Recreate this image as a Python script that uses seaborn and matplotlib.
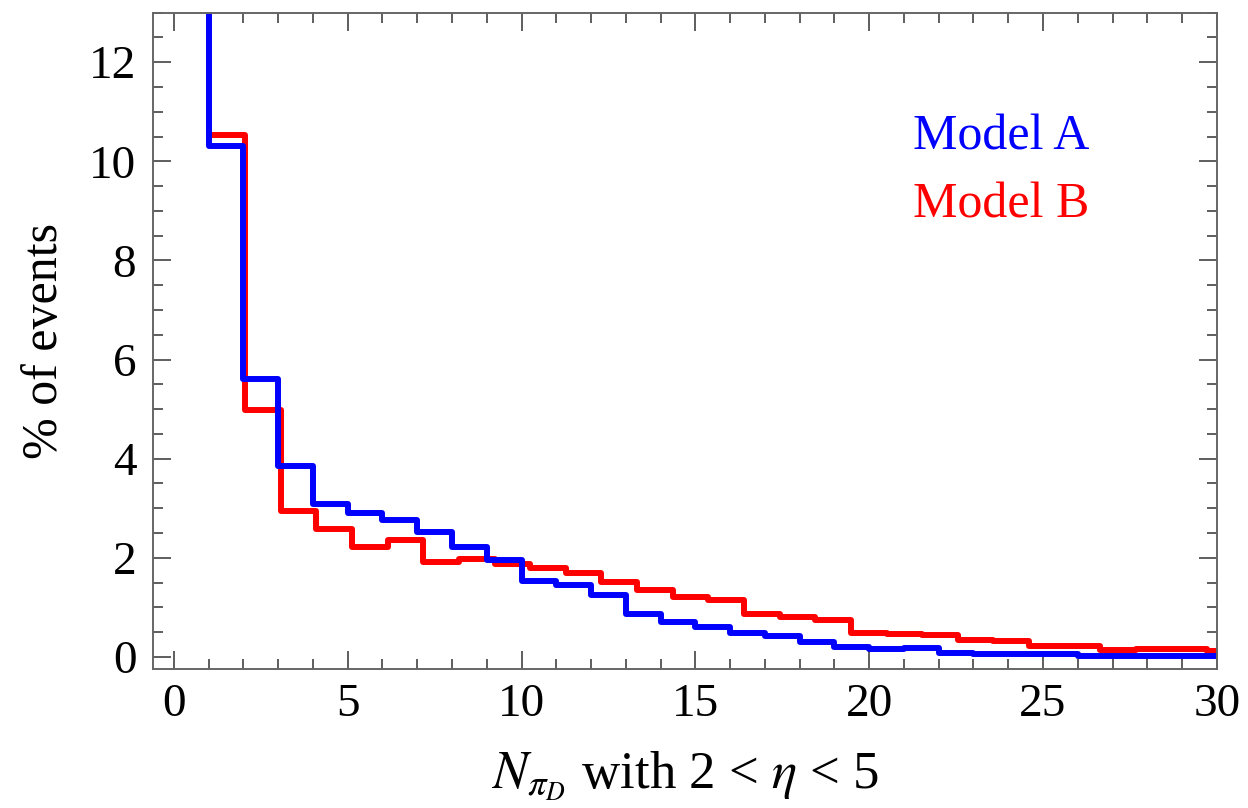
import numpy as np
import pandas as pd
import matplotlib
matplotlib.use("Agg")
import matplotlib.pyplot as plt
import seaborn as sns
from matplotlib.ticker import MultipleLocator

# Percentage of events per multiplicity bin (first bin runs off the top of the frame)
model_a_bin_width = 1.0
model_a_pct = [56.4, 10.31, 5.60, 3.86, 3.09, 2.91, 2.77, 2.52, 2.21, 1.95,
               1.54, 1.46, 1.24, 0.87, 0.70, 0.60, 0.48, 0.42, 0.30, 0.20,
               0.155, 0.17, 0.07, 0.05, 0.055, 0.05, 0.012, 0.012, 0.012, 0.012]

model_b_bin_width = 1.025
model_b_pct = [54.4, 10.54, 4.99, 2.95, 2.59, 2.22, 2.35, 1.91, 1.98, 1.87,
               1.80, 1.70, 1.52, 1.34, 1.21, 1.14, 0.87, 0.81, 0.74, 0.48,
               0.47, 0.44, 0.34, 0.32, 0.215, 0.21, 0.135, 0.15, 0.15, 0.115]

x_major_ticks = [0, 5, 10, 15, 20, 25, 30]
y_major_ticks = [0, 2, 4, 6, 8, 10, 12]

sns.set_style("ticks")
plt.rcParams["font.family"] = ["Liberation Serif", "DejaVu Serif"]
plt.rcParams["mathtext.fontset"] = "stix"
plt.rcParams["axes.labelcolor"] = "black"
plt.rcParams["text.color"] = "black"

fig = plt.figure(figsize=(12.48, 8.08), dpi=100)
ax = fig.add_axes([0.1226, 0.1717, 0.8524, 0.8126])


def step_hist(pct, width, color):
    n = len(pct)
    df = pd.DataFrame({"n": (np.arange(n) + 0.5) * width, "pct": pct})
    sns.histplot(data=df, x="n", weights="pct", binwidth=width,
                 binrange=(0, n * width), element="step", fill=False,
                 color=color, linewidth=4.3, ax=ax)


step_hist(model_b_pct, model_b_bin_width, "#ff0000")
step_hist(model_a_pct, model_a_bin_width, "#0000ff")

ax.set_xlim(-0.6, 30)
ax.set_ylim(-0.25, 13)
ax.set_xticks(x_major_ticks)
ax.set_yticks(y_major_ticks)
ax.xaxis.set_minor_locator(MultipleLocator(1))
ax.yaxis.set_minor_locator(MultipleLocator(0.5))

frame_color = "#666666"
for side in ["left", "right", "top", "bottom"]:
    ax.spines[side].set_visible(True)
    ax.spines[side].set_color(frame_color)
    ax.spines[side].set_linewidth(1.4)

ax.tick_params(which="both", direction="in", top=True, right=True,
               color="#333333", width=1.1, labelsize=34, labelcolor="black")
ax.tick_params(which="major", length=13)
ax.tick_params(axis="x", which="major", pad=10)
ax.tick_params(axis="y", which="major", pad=12)
ax.tick_params(which="minor", length=7)

ax.set_xlabel(r"$N_{\pi_D}$ with 2 < $\eta$ < 5", fontsize=38, va="center",
              color="black")
ax.xaxis.set_label_coords(0.5, -0.163)
ax.set_ylabel("% of events", fontsize=36, va="center", color="black")
ax.yaxis.set_label_coords(-0.1015, 0.5)

ax.text(0.714, 0.811, "Model A", color="#0000ff", fontsize=36,
        ha="left", va="center", transform=ax.transAxes)
ax.text(0.714, 0.707, "Model B", color="#ff0000", fontsize=36,
        ha="left", va="center", transform=ax.transAxes)

fig.savefig("out.png", dpi=100, facecolor="white")
